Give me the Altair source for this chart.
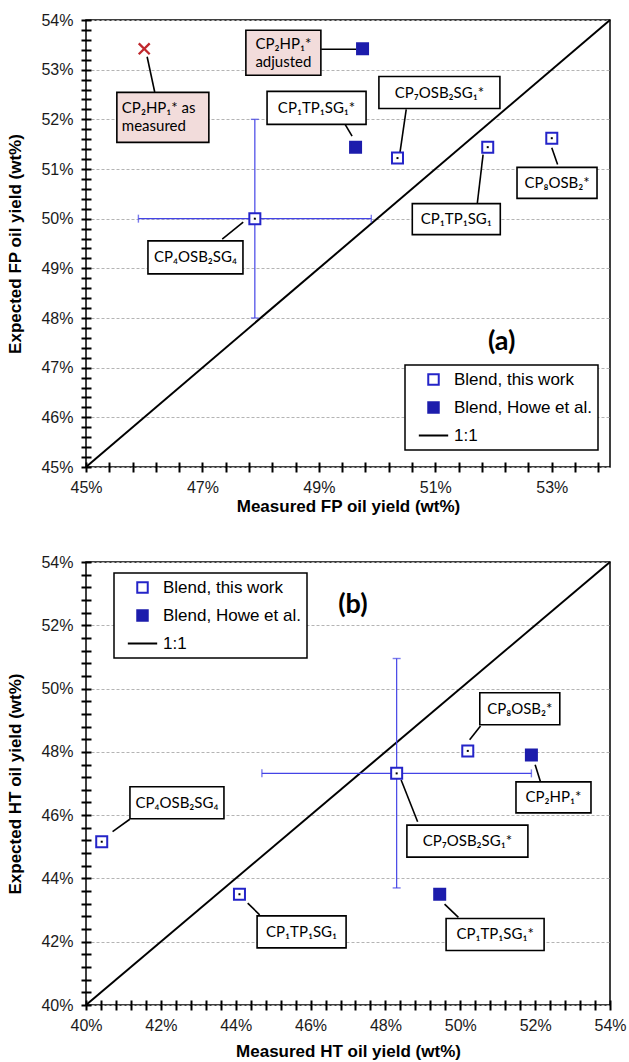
import altair as alt
import pandas as pd

# ---------------- data : panel (a) FP ----------------
a_open_x = [47.9, 50.35, 51.9, 53.0]
a_open_y = [50.0, 51.22, 51.44, 51.62]
a_howe_x = [49.75, 49.63]
a_howe_y = [53.42, 51.44]
a_meas_x = [46.0]
a_meas_y = [53.42]
a_err_center = [47.9, 50.0]
a_err_xrange = [45.9, 49.9]
a_err_yrange = [48.0, 52.0]

a_lab_text = ["CP₂HP₁* as\nmeasured", "CP₂HP₁*\nadjusted", "CP₁TP₁SG₁*", "CP₇OSB₂SG₁*",
              "CP₁TP₁SG₁", "CP₈OSB₂*", "CP₄OSB₂SG₄"]
a_lab_cx = [46.32, 48.39, 48.96, 51.07, 51.36, 53.09, 46.88]
a_lab_cy = [52.04, 53.34, 52.23, 52.54, 49.99, 50.72, 49.22]
a_lab_w = [92, 75, 99, 121, 88, 80, 95]
a_lab_h = [50, 45, 33, 32, 31, 31, 33]
a_lab_fill = ["pink", "pink", "white", "white", "white", "white", "white"]
a_lab_align = ["left", "center", "center", "center", "center", "center", "center"]
a_lead_x1 = [46.05, 49.04, 49.44, 50.50, 51.72, 53.10, 47.34]
a_lead_y1 = [53.26, 53.41, 51.92, 52.20, 50.30, 51.09, 49.59]
a_lead_x2 = [46.18, 49.64, 49.57, 50.39, 51.82, 53.00, 47.70]
a_lead_y2 = [52.55, 53.41, 51.66, 51.31, 51.29, 51.43, 49.93]
a_xlabels = [45, 47, 49, 51, 53]
a_ylabels = [45, 46, 47, 48, 49, 50, 51, 52, 53, 54]
a_xticks = [round(45 + 0.4 * i, 2) for i in range(23)]
a_yticks = [round(45 + 0.2 * i, 2) for i in range(46)]

# ---------------- data : panel (b) HT ----------------
b_open_x = [40.42, 44.1, 48.3, 50.2]
b_open_y = [45.16, 43.5, 47.32, 48.03]
b_howe_x = [51.9, 49.45]
b_howe_y = [47.9, 43.5]
b_err_center = [48.3, 47.32]
b_err_xrange = [44.7, 51.9]
b_err_yrange = [43.7, 50.95]

b_lab_text = ["CP₄OSB₂SG₄", "CP₁TP₁SG₁", "CP₇OSB₂SG₁*", "CP₂HP₁*", "CP₁TP₁SG₁*", "CP₈OSB₂*"]
b_lab_cx = [42.43, 45.76, 50.19, 52.49, 50.93, 51.59]
b_lab_cy = [46.39, 42.31, 45.18, 46.56, 42.23, 49.36]
b_lab_w = [94, 89, 121, 75, 98, 80]
b_lab_h = [32, 32, 32, 31, 32, 32]
b_lab_fill = ["white"] * 6
b_lab_align = ["center"] * 6
b_lead_x1 = [40.71, 44.32, 48.42, 52.00, 49.58, 50.25]
b_lead_y1 = [45.48, 43.22, 47.11, 47.59, 43.19, 48.38]
b_lead_x2 = [41.17, 44.64, 48.86, 52.14, 49.95, 50.54]
b_lead_y2 = [45.87, 42.85, 45.79, 47.06, 42.77, 48.82]
b_xlabels = [40, 42, 44, 46, 48, 50, 52, 54]
b_ylabels = [40, 42, 44, 46, 48, 50, 52, 54]
b_xticks = [round(40 + 0.4 * i, 2) for i in range(36)]
b_yticks = [round(40 + 0.4 * i, 2) for i in range(36)]

SERIES = ["Blend, this work", "Blend, Howe et al.", "1:1"]

AXF = "Liberation Sans"
LBF = "Lato"
OPEN_C = "#2424c8"
FILL_C = "#1c1cac"
ERR_C = "#4444e6"
PINK = "#f2dcdb"
LINE_H = 18


def is_major(vals):
    return "indexof([" + ",".join(str(v) for v in vals) + "], datum.value) >= 0"


def panel(W, H, dom, xlabels, ylabels, xticks, yticks, open_x, open_y, howe_x, howe_y,
          meas_x, meas_y, err_c, err_xr, err_yr, lab, tag, tag_xy, leg_xy, xtitle, ytitle, xtp):
    lo, hi = dom
    ppx = W / (hi - lo)
    ppy = H / (hi - lo)
    xs = alt.Scale(domain=[lo, hi], nice=False, zero=False)
    ys = alt.Scale(domain=[lo, hi], nice=False, zero=False)
    # ticks cross the axis line: axis drawn 5px inside, ticks 9px long outward
    xaxis = alt.Axis(values=xticks, title=xtitle,
                     labelExpr=is_major(xlabels) + " ? datum.value + '%' : ''",
                     grid=False, ticks=True, tickSize=10, tickWidth=2, tickColor="black", offset=-5,
                     zindex=1,
                     titlePadding=xtp, labelPadding=7, labelFlush=False, labelOverlap=False)
    yaxis = alt.Axis(values=yticks, title=ytitle,
                     labelExpr=is_major(ylabels) + " ? datum.value + '%' : ''",
                     grid=True, gridOpacity={"condition": {"test": is_major(ylabels), "value": 1}, "value": 0},
                     ticks=True, tickSize=10, tickWidth=2, tickColor="black", offset=-5,
                     titlePadding=16, labelPadding=8, labelFlush=False, labelOverlap=False)

    def X(f):
        return alt.X(f, type="quantitative", scale=xs, axis=xaxis)

    def Y(f):
        return alt.Y(f, type="quantitative", scale=ys, axis=yaxis)

    layers = []
    # 1:1 line
    one = pd.DataFrame({"x": [lo, hi], "y": [lo, hi]})
    layers.append(alt.Chart(one).mark_line(color="black", strokeWidth=2).encode(x=X("x"), y=Y("y")))

    # error bars
    eh = pd.DataFrame({"x": [err_xr[0]], "x2": [err_xr[1]], "y": [err_c[1]]})
    ev = pd.DataFrame({"x": [err_c[0]], "y": [err_yr[0]], "y2": [err_yr[1]]})
    layers.append(alt.Chart(eh).mark_rule(color=ERR_C, strokeWidth=1.4).encode(x=X("x"), x2="x2", y=Y("y")))
    layers.append(alt.Chart(ev).mark_rule(color=ERR_C, strokeWidth=1.2).encode(x=X("x"), y=Y("y"), y2="y2"))
    capx = pd.DataFrame({"x": err_xr, "y": [err_c[1]] * 2})
    capy = pd.DataFrame({"x": [err_c[0]] * 2, "y": err_yr})
    layers.append(alt.Chart(capx).mark_tick(orient="vertical", color=ERR_C, size=8, thickness=1.4)
                  .encode(x=X("x"), y=Y("y")))
    layers.append(alt.Chart(capy).mark_tick(orient="horizontal", color=ERR_C, size=8, thickness=1.4)
                  .encode(x=X("x"), y=Y("y")))

    # labels
    txt, cx, cy, w, h, fill, align, lx1, ly1, lx2, ly2 = lab
    ld = pd.DataFrame({"x": lx1, "y": ly1, "x2": lx2, "y2": ly2})
    layers.append(alt.Chart(ld).mark_rule(color="black", strokeWidth=1.6)
                  .encode(x=X("x"), y=Y("y"), x2="x2", y2="y2"))
    bd = pd.DataFrame({
        "t": txt, "cx": cx, "cy": cy, "fill": fill, "align": align,
        "x1": [c - ww / 2 / ppx for c, ww in zip(cx, w)],
        "x2": [c + ww / 2 / ppx for c, ww in zip(cx, w)],
        "y1": [c - hh / 2 / ppy for c, hh in zip(cy, h)],
        "y2": [c + hh / 2 / ppy for c, hh in zip(cy, h)],
    })
    bd["tx"] = [x1 + 5 / ppx if a == "left" else c for x1, a, c in zip(bd["x1"], bd["align"], bd["cx"])]
    bd["ty"] = [c + (t.count("\n")) * LINE_H / 2 / ppy for c, t in zip(bd["cy"], bd["t"])]
    for fname, fcol in [("white", "white"), ("pink", PINK)]:
        sub = bd[bd["fill"] == fname]
        if len(sub):
            layers.append(alt.Chart(sub).mark_rect(fill=fcol, stroke="black", strokeWidth=1.6)
                          .encode(x=X("x1"), x2="x2", y=Y("y1"), y2="y2"))
    for al in ["center", "left"]:
        sub = bd[bd["align"] == al]
        if len(sub):
            layers.append(alt.Chart(sub).mark_text(font=LBF, fontSize=15, align=al, baseline="middle",
                                                   lineBreak="\n", lineHeight=LINE_H, color="black")
                          .encode(x=X("tx"), y=Y("ty"), text="t"))

    # points with legend
    pts = pd.DataFrame({
        "x": open_x + howe_x, "y": open_y + howe_y,
        "series": [SERIES[0]] * len(open_x) + [SERIES[1]] * len(howe_x),
    })
    leg = alt.Legend(orient="none", legendX=leg_xy[0], legendY=leg_xy[1], title=None,
                     labelFont=AXF, labelFontSize=17, labelColor="black", symbolSize=110,
                     symbolStrokeWidth=2, rowPadding=9, labelOffset=12, symbolOffset=14,
                     padding=6, strokeColor="black", fillColor="white", cornerRadius=0)
    layers.append(alt.Chart(pts).mark_point(size=121, strokeWidth=2, opacity=1, fillOpacity=1).encode(
        x=X("x"), y=Y("y"),
        shape=alt.Shape("series:N", scale=alt.Scale(domain=SERIES, range=["square", "square", "M-2.8,0L2.8,0"]), legend=leg),
        fill=alt.Fill("series:N", scale=alt.Scale(domain=SERIES, range=["white", FILL_C, "black"]), legend=leg),
        stroke=alt.Stroke("series:N", scale=alt.Scale(domain=SERIES, range=[OPEN_C, FILL_C, "black"]), legend=leg),
    ))
    dots = pd.DataFrame({"x": open_x, "y": open_y})
    layers.append(alt.Chart(dots).mark_point(shape="square", size=4, filled=True, color="black", opacity=1)
                  .encode(x=X("x"), y=Y("y")))
    if meas_x:
        md = pd.DataFrame({"x": meas_x, "y": meas_y})
        layers.append(alt.Chart(md).mark_point(shape="M-1,-1L1,1M-1,1L1,-1", size=120, filled=False,
                                               stroke="#c0282d", strokeWidth=2.3, opacity=1)
                      .encode(x=X("x"), y=Y("y")))
    # panel tag
    td = pd.DataFrame({"x": [tag_xy[0]], "y": [tag_xy[1]], "t": [tag]})
    layers.append(alt.Chart(td).mark_text(font=LBF, fontWeight="bold", fontSize=27, color="black")
                  .encode(x=X("x"), y=Y("y"), text="t"))
    return alt.layer(*layers).properties(width=W, height=H)


top = panel(524, 447, (45, 54), a_xlabels, a_ylabels, a_xticks, a_yticks,
            a_open_x, a_open_y, a_howe_x, a_howe_y, a_meas_x, a_meas_y,
            a_err_center, a_err_xrange, a_err_yrange,
            (a_lab_text, a_lab_cx, a_lab_cy, a_lab_w, a_lab_h, a_lab_fill, a_lab_align,
             a_lead_x1, a_lead_y1, a_lead_x2, a_lead_y2),
            "(a)", (52.14, 47.52), (319, 345),
            "Measured FP oil yield (wt%)", "Expected FP oil yield (wt%)", 3)

bottom = panel(524, 443, (40, 54), b_xlabels, b_ylabels, b_xticks, b_yticks,
               b_open_x, b_open_y, b_howe_x, b_howe_y, [], [],
               b_err_center, b_err_xrange, b_err_yrange,
               (b_lab_text, b_lab_cx, b_lab_cy, b_lab_w, b_lab_h, b_lab_fill, b_lab_align,
                b_lead_x1, b_lead_y1, b_lead_x2, b_lead_y2),
               "(b)", (47.13, 52.64), (28, 11),
               "Measured HT oil yield (wt%)", "Expected HT oil yield (wt%)", 10)

chart = alt.vconcat(top, bottom, spacing=38).resolve_scale(
    x="independent", y="independent", shape="independent", fill="independent", stroke="independent"
).resolve_legend(shape="independent", fill="independent", stroke="independent").properties(
    padding={"left": 6, "top": 11, "right": 0, "bottom": 0}
).configure_view(stroke="black", strokeWidth=1.5).configure_axis(
    labelFont=AXF, labelFontSize=16, labelColor="#1a1a1a",
    titleFont=AXF, titleFontSize=17, titleFontWeight="bold", titleColor="black",
    domain=False, gridColor="#b4b4b4", gridDash=[3, 2], gridWidth=1
).configure_legend(strokeWidth=1.5)

chart.save("out.html", embed_options={"renderer": "svg", "actions": False})
